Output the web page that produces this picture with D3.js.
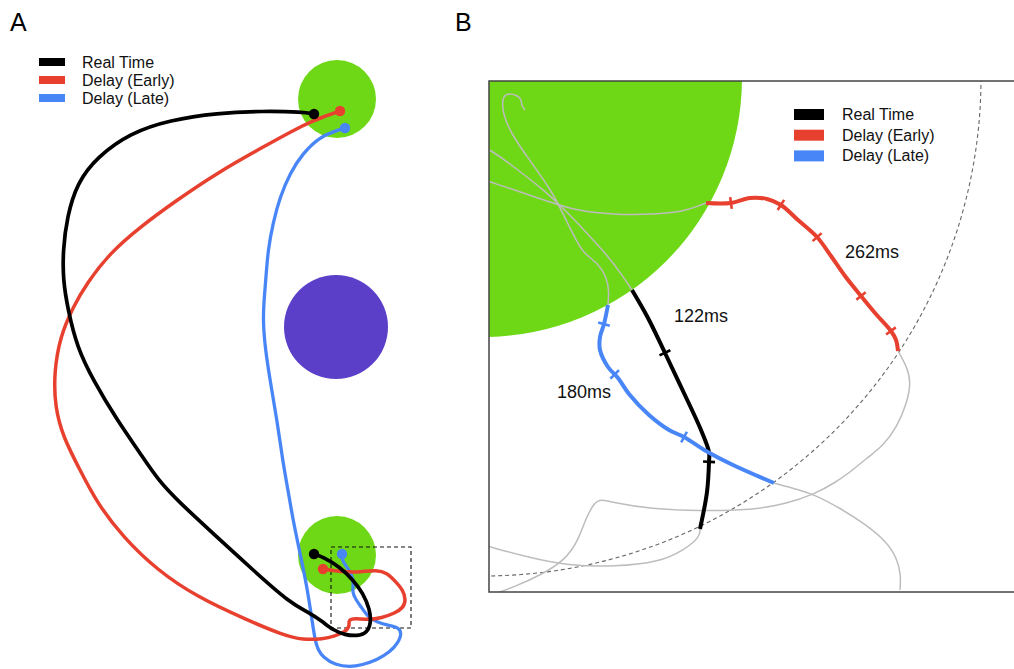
<!DOCTYPE html>
<html>
<head>
<meta charset="utf-8">
<script src="https://cdn.jsdelivr.net/npm/d3@7"></script>
<style>
  html, body { margin: 0; padding: 0; background: #fff; }
  svg { display: block; font-family: "Liberation Sans", Arial, Helvetica, sans-serif; }
</style>
</head>
<body>
<svg id="fig" width="1014" height="669"></svg>
<script>
// ---------- shared series ----------
const seriesNames = ["Real Time", "Delay (Early)", "Delay (Late)"];
const movementTimes = [122, 262, 180];          // ms, same order as seriesNames

// ---------- Panel A: workspace (origin = lower target centre, y up) ----------
const targetUpperA = [0, 456, 39];
const obstacleA    = [-1, 228, 52];
const targetLowerA = [0, 0, 39];
const zoomBoxA     = [-6, 8, 74, -73];          // x0, y0, x1, y1 of the region shown in B

const realTimeA = [[-23,441],[-34,443],[-74,444],[-120,442],[-167,435],[-207,422],[-240,398],[-260,372],
  [-270,338],[-274,305],[-274,275],[-269,245],[-260,208],[-244,175],[-220,135],[-197,102],[-179,75],
  [-157,52],[-120,18],[-84,-15],[-47,-48],[-27,-58],[-14,-67],[-4,-75],[8,-80],[20,-81],[30,-78],
  [34,-68],[33,-55],[26,-38],[16,-25],[3,-12],[-14,-2],[-23,1]];

const earlyA = [[3,444],[-14,438],[-30,432],[-74,408],[-120,382],[-160,355],[-197,328],[-227,302],
  [-250,272],[-264,248],[-277,218],[-283,182],[-282,148],[-274,118],[-257,85],[-240,52],[-214,18],
  [-180,-15],[-140,-42],[-90,-65],[-54,-80],[-34,-85],[-14,-84],[-2,-81],[8,-77],[13,-71],[11,-65],
  [18,-63],[30,-65],[45,-63],[58,-58],[66,-53],[69,-45],[66,-35],[58,-26],[50,-18],[40,-15],[23,-17],
  [10,-17],[-2,-16],[-14,-14]];

const lateA = [[8,427],[-4,423],[-17,418],[-34,402],[-47,382],[-57,358],[-64,332],[-69,305],[-71,278],
  [-73,255],[-74,235],[-72,208],[-67,175],[-60,135],[-54,92],[-49,65],[-44,35],[-37,2],[-30,-32],
  [-25,-65],[-22,-85],[-19,-95],[-14,-102],[-2,-110],[13,-112],[25,-110],[40,-105],[53,-97],[61,-88],
  [65,-78],[61,-72],[50,-70],[40,-67],[31,-62],[25,-53],[19,-45],[15,-37],[17,-28],[14,-18],[9,-11],
  [5,-5],[5,1]];

// ---------- Panel B: magnified exit from the target (origin = target centre, y down) ----------
const targetB = [0, 0, 259];
const exitRadiusB = 498;

const realTimeGrayBeforeB = [[-5,68],[7,71],[35,92],[62,113],[82,132],[102,153],[125,178],[139,197],[149,212]];
const realTimeB = [[149,212],[165,240],[182,275],[200,313],[218,352],[226,374],[226,384],[224,414],[217,451]];
const realTimeGrayAfterB = [[217,451],[217,459],[201,472],[177,484],[132,489],[81,487],[48,480],[7,469],[-5,465]];
const realTimeTicksB = [[182,275],[226,384]];

const earlyGrayBeforeB = [[-5,100],[7,104],[35,113],[69,125],[95,133],[135,137],[175,136],[202,133],[215,128],[223,125]];
const earlyB = [[223,125],[248,125],[267,120],[284,121],[298,127],[315,142],[334,159],[348,178],[362,198],
  [378,218],[392,235],[408,253],[413,262],[415,273]];
const earlyGrayAfterB = [[415,273],[424,289],[428,304],[424,325],[414,349],[400,368],[384,380],[366,395],
  [353,404],[332,416],[303,426],[269,432],[217,433],[167,431],[132,425],[118,421],[111,425],[103,440],
  [95,463],[82,482],[58,497],[31,509],[11,516],[-3,521]];
const earlyTicksB = [[248,125],[298,127],[334,159],[378,218],[408,253]];

const lateGrayBeforeB = [[42,32],[38,27],[39,22],[34,17],[24,15],[19,20],[20,37],[29,57],[45,80],[69,113],
  [82,140],[92,160],[100,175],[115,185],[124,200],[126,213],[125,227]];
const lateB = [[125,227],[121,246],[117,259],[117,272],[125,289],[135,300],[146,316],[166,337],[186,352],
  [201,359],[223,373],[250,387],[291,405]];
const lateGrayAfterB = [[291,405],[317,412],[332,417],[357,430],[382,446],[403,463],[414,480],[418,497],[417,512]];
const lateTicksB = [[121,246],[133,295],[201,359]];

const timeLabelPosB = [[191,244],[362,180],[74,320]];   // anchor for each movement-time label

// ---------- styling ----------
const palette = { real: "#000000", early: "#e8402f", late: "#4886f8",
                  target: "#6fd816", obstacle: "#5c3fc9", gray: "#bdbdbd" };
const seriesColors = [palette.real, palette.early, palette.late];

const svg = d3.select("#fig");

// ================= Panel A =================
const xA = d3.scaleLinear().domain([0, 100]).range([337, 437]);
const yA = d3.scaleLinear().domain([0, 100]).range([555, 455]);
const rA = v => xA(v) - xA(0);
const lineA = d3.line().x(d => xA(d[0])).y(d => yA(d[1])).curve(d3.curveBasis);

const gA = svg.append("g");
gA.append("text").attr("x", 10).attr("y", 31).attr("font-size", 25).text("A");

[[targetUpperA, palette.target], [obstacleA, palette.obstacle], [targetLowerA, palette.target]]
  .forEach(([c, col]) => gA.append("circle").attr("cx", xA(c[0])).attr("cy", yA(c[1])).attr("r", rA(c[2])).attr("fill", col));

gA.append("rect")
  .attr("x", xA(zoomBoxA[0])).attr("y", yA(zoomBoxA[1]))
  .attr("width", xA(zoomBoxA[2]) - xA(zoomBoxA[0])).attr("height", yA(zoomBoxA[3]) - yA(zoomBoxA[1]))
  .attr("fill", "none").attr("stroke", "#111").attr("stroke-width", 1.1).attr("stroke-dasharray", "4,3");

const trajA = [[lateA, palette.late, 3.3], [earlyA, palette.early, 3.5], [realTimeA, palette.real, 3.7]];
trajA.forEach(([pts, col, w]) => {
  gA.append("path").attr("d", lineA(pts)).attr("fill", "none").attr("stroke", col)
    .attr("stroke-width", w).attr("stroke-linecap", "round").attr("stroke-linejoin", "round");
  [pts[0], pts[pts.length - 1]].forEach(p =>
    gA.append("circle").attr("cx", xA(p[0])).attr("cy", yA(p[1])).attr("r", 5.2).attr("fill", col));
});

// legend A
const legA = gA.append("g");
seriesNames.forEach((name, i) => {
  legA.append("rect").attr("x", 39).attr("y", 58 + i * 18).attr("width", 26).attr("height", 8).attr("fill", seriesColors[i]);
  legA.append("text").attr("x", 82).attr("y", 68 + i * 18).attr("font-size", 16).attr("fill", "#111").text(name);
});

// ================= Panel B =================
const xB = d3.scaleLinear().domain([0, 100]).range([483, 583]);
const yB = d3.scaleLinear().domain([0, 100]).range([78, 178]);
const rB = v => xB(v) - xB(0);
const lineB = d3.line().x(d => xB(d[0])).y(d => yB(d[1])).curve(d3.curveCatmullRom.alpha(0.5));
const smoothB = d3.line().x(d => xB(d[0])).y(d => yB(d[1])).curve(d3.curveBasis);

const boxB = { x: 489, y: 81, w: 580, h: 511 };
svg.append("text").attr("x", 455).attr("y", 31).attr("font-size", 25).text("B");

svg.append("defs").append("clipPath").attr("id", "clipB")
  .append("rect").attr("x", boxB.x).attr("y", boxB.y).attr("width", boxB.w).attr("height", boxB.h);

const gB = svg.append("g").attr("clip-path", "url(#clipB)");
gB.append("circle").attr("cx", xB(targetB[0])).attr("cy", yB(targetB[1])).attr("r", rB(targetB[2])).attr("fill", palette.target);
gB.append("circle").attr("cx", xB(targetB[0])).attr("cy", yB(targetB[1])).attr("r", rB(exitRadiusB))
  .attr("fill", "none").attr("stroke", "#666").attr("stroke-width", 1.1).attr("stroke-dasharray", "4,3");

const grayB = [realTimeGrayBeforeB, realTimeGrayAfterB, earlyGrayBeforeB, earlyGrayAfterB, lateGrayBeforeB, lateGrayAfterB];
grayB.forEach(pts => gB.append("path").attr("d", smoothB(pts)).attr("fill", "none")
  .attr("stroke", palette.gray).attr("stroke-width", 1.5).attr("stroke-linejoin", "round"));

function drawTicks(pathNode, ticks, col) {
  const L = pathNode.getTotalLength();
  const samples = d3.range(0, L, 0.5).map(l => { const p = pathNode.getPointAtLength(l); return { l, x: p.x, y: p.y }; });
  ticks.forEach(([tx, ty]) => {
    const X = xB(tx), Y = yB(ty);
    const best = d3.least(samples, s => (s.x - X) ** 2 + (s.y - Y) ** 2);
    const p0 = pathNode.getPointAtLength(Math.max(0, best.l - 3));
    const p1 = pathNode.getPointAtLength(Math.min(L, best.l + 3));
    let dx = p1.x - p0.x, dy = p1.y - p0.y;
    const n = Math.hypot(dx, dy) || 1; dx /= n; dy /= n;
    const h = 6;
    gB.append("line")
      .attr("x1", best.x - dy * h).attr("y1", best.y + dx * h)
      .attr("x2", best.x + dy * h).attr("y2", best.y - dx * h)
      .attr("stroke", col).attr("stroke-width", 2.6);
  });
}

const colouredB = [[realTimeB, realTimeTicksB, palette.real], [lateB, lateTicksB, palette.late], [earlyB, earlyTicksB, palette.early]];
colouredB.forEach(([pts, ticks, col]) => {
  const p = gB.append("path").attr("d", lineB(pts)).attr("fill", "none").attr("stroke", col)
    .attr("stroke-width", 4).attr("stroke-linejoin", "round");
  drawTicks(p.node(), ticks, col);
});

// movement-time labels
movementTimes.forEach((t, i) => {
  svg.append("text").attr("x", xB(timeLabelPosB[i][0])).attr("y", yB(timeLabelPosB[i][1]))
    .attr("font-size", 18).attr("fill", "#111").text(t + "ms");
});

// legend B
const legB = svg.append("g");
seriesNames.forEach((name, i) => {
  legB.append("rect").attr("x", 794).attr("y", 109 + i * 20.7).attr("width", 30).attr("height", 11).attr("fill", seriesColors[i]);
  legB.append("text").attr("x", 842).attr("y", 120 + i * 20.7).attr("font-size", 16).attr("fill", "#111").text(name);
});

// frame
svg.append("rect").attr("x", boxB.x).attr("y", boxB.y).attr("width", boxB.w).attr("height", boxB.h)
  .attr("fill", "none").attr("stroke", "#444").attr("stroke-width", 1.5);
</script>
</body>
</html>
